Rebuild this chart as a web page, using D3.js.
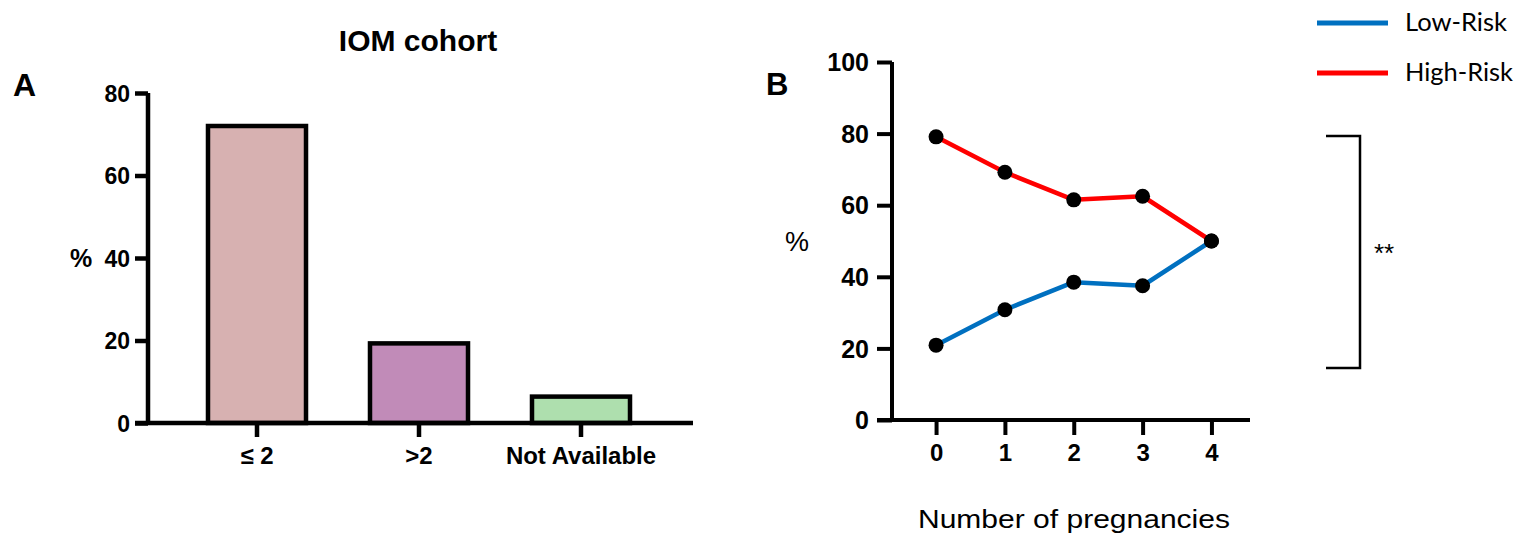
<!DOCTYPE html>
<html><head><meta charset="utf-8">
<script src="https://cdn.jsdelivr.net/npm/d3@7"></script>
<style>
body{margin:0;background:#fff;}
svg{display:block;}
text{font-family:"Liberation Sans",Arial,sans-serif;fill:#000;}
</style></head>
<body><svg id="c" width="1527" height="552"></svg>
<script>
// Panel A data
const barCategories = ["≤ 2", ">2", "Not Available"];
const barValues = [72.0, 19.3, 6.4];
const barColors = ["#D7B1B1", "#C18BB8", "#AEDFAE"];
const barYTicks = [0, 20, 40, 60, 80];

// Panel B data
const pregnancies = [0, 1, 2, 3, 4];
const lowRisk = [20.9, 30.8, 38.5, 37.5, 50.0];
const highRisk = [79.1, 69.2, 61.5, 62.5, 50.0];
const lineYTicks = [0, 20, 40, 60, 80, 100];
const seriesNames = ["Low-Risk", "High-Risk"];
const seriesColors = ["#0070C0", "#FF0000"];
const bracketRange = [79.3, 14.5];

const svg = d3.select("#c");

// ---------- Panel A ----------
const yA = d3.scaleLinear().domain([0, 80]).range([423, 93]);
const xA = d3.scaleBand().domain(barCategories).range([176, 662]).paddingInner(0.395).paddingOuter(0.1975);
const gA = svg.append("g");

gA.selectAll("rect.bar").data(barValues).join("rect")
  .attr("class","bar")
  .attr("x",(d,i)=>xA(barCategories[i]))
  .attr("width",xA.bandwidth())
  .attr("y",d=>yA(d))
  .attr("height",d=>yA(0)-yA(d))
  .attr("fill",(d,i)=>barColors[i])
  .attr("stroke","#000").attr("stroke-width",4.5);

const axYA = gA.append("g").attr("transform","translate(148,0)")
  .call(d3.axisLeft(yA).tickValues(barYTicks).tickSize(13).tickPadding(5).tickSizeOuter(0));
axYA.select(".domain").attr("stroke-width",4.5).attr("d",`M0,${yA(80)}V${yA(0)}`);
axYA.selectAll(".tick line").attr("stroke-width",4.5);
axYA.selectAll(".tick text").attr("font-size",23).attr("font-weight","bold").attr("dy","0.35em");

const axXA = gA.append("g").attr("transform",`translate(0,423)`)
  .call(d3.axisBottom(xA).tickSize(14).tickPadding(10).tickSizeOuter(0));
axXA.select(".domain").attr("stroke-width",4.5).attr("d","M135,0H693");
axXA.selectAll(".tick line").attr("stroke-width",4.5);
axXA.selectAll(".tick text").attr("font-size",24).attr("font-weight","bold");

svg.append("text").attr("x",418).attr("y",51).attr("text-anchor","middle")
  .attr("font-size",30).attr("font-weight","bold").text("IOM cohort");
svg.append("text").attr("x",13).attr("y",96)
  .attr("font-size",32).attr("font-weight","bold").text("A");
svg.append("text").attr("x",81).attr("y",267).attr("text-anchor","middle")
  .attr("font-size",25).attr("font-weight","bold").text("%");

// ---------- Panel B ----------
const yB = d3.scaleLinear().domain([0, 100]).range([420, 62]);
const xB = d3.scaleLinear().domain([-0.64, 4.56]).range([892, 1250]);
const gB = svg.append("g");

const axYB = gB.append("g").attr("transform","translate(892,0)")
  .call(d3.axisLeft(yB).tickValues(lineYTicks).tickSize(15).tickPadding(8).tickSizeOuter(0));
axYB.select(".domain").attr("stroke-width",4).attr("d",`M0,${yB(100)}V${yB(0)}`);
axYB.selectAll(".tick line").attr("stroke-width",4);
axYB.selectAll(".tick text").attr("font-size",25).attr("font-weight","bold").attr("dy","0.35em");

const axXB = gB.append("g").attr("transform","translate(0,420)")
  .call(d3.axisBottom(xB).tickValues(pregnancies).tickFormat(d3.format("d")).tickSize(15).tickPadding(9).tickSizeOuter(0));
axXB.select(".domain").attr("stroke-width",4).attr("d",`M877,0H1250`);
axXB.selectAll(".tick line").attr("stroke-width",4);
axXB.selectAll(".tick text").attr("font-size",24).attr("font-weight","bold");

const line = d3.line().x((d,i)=>xB(pregnancies[i])).y(d=>yB(d));
[lowRisk, highRisk].forEach((s,k)=>{
  gB.append("path").datum(s).attr("d",line).attr("fill","none")
    .attr("stroke",seriesColors[k]).attr("stroke-width",4.5).attr("stroke-linejoin","round");
});
[lowRisk, highRisk].forEach(s=>{
  gB.selectAll(null).data(s).join("circle")
    .attr("cx",(d,i)=>xB(pregnancies[i])).attr("cy",d=>yB(d)).attr("r",7.5).attr("fill","#000");
});

svg.append("text").attr("x",766).attr("y",95).attr("font-size",31).attr("font-weight","bold").text("B");
svg.append("text").attr("x",797).attr("y",251).attr("text-anchor","middle").attr("font-size",27).text("%");
svg.append("text").attr("x",1074).attr("y",528).attr("text-anchor","middle").attr("font-size",26)
  .attr("textLength",312).attr("lengthAdjust","spacingAndGlyphs").text("Number of pregnancies");

// legend
const legY = [23, 73];
const legW = [102, 108];
seriesNames.forEach((n,k)=>{
  svg.append("line").attr("x1",1317).attr("x2",1388).attr("y1",legY[k]).attr("y2",legY[k])
    .attr("stroke",seriesColors[k]).attr("stroke-width",5);
  svg.append("text").attr("x",1405).attr("y",legY[k]+8).attr("font-size",25)
    .attr("textLength",legW[k]).attr("lengthAdjust","spacingAndGlyphs")
    .style("font-family","Lato, 'Open Sans', sans-serif").text(n);
});

// significance bracket
const bx0 = 1326, bx1 = 1360;
svg.append("path").attr("fill","none").attr("stroke","#000").attr("stroke-width",2.5)
  .attr("d",`M${bx0},${yB(bracketRange[0])}H${bx1}V${yB(bracketRange[1])}H${bx0}`);
svg.append("text").attr("x",1374).attr("y",yB((bracketRange[0]+bracketRange[1])/2)+10)
  .attr("font-size",26).text("**");
</script></body></html>
